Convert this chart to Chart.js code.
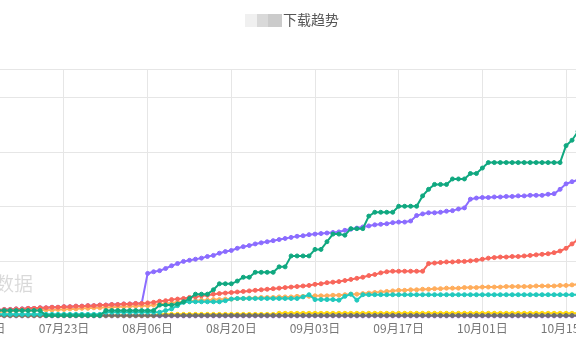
<!DOCTYPE html>
<html><head><meta charset="utf-8">
<script src="https://cdn.jsdelivr.net/npm/chart.js@4"></script>
<style>
html,body{margin:0;padding:0;background:#fff;overflow:hidden;width:576px;height:356px;}
#wrap{position:absolute;left:-60px;top:0;width:678px;height:356px;}
</style></head><body>
<div id="wrap"><canvas id="c"></canvas></div>
<script>
const titleText = "下载趋势";
const watermarkText = "数据";
// categories: one per day from 07月09日
const dates = [];
(function(){ const d = new Date(2023, 6, 9); for (let i = 0; i < 101; i++) { const m = String(d.getMonth()+1).padStart(2,'0'); const dd = String(d.getDate()).padStart(2,'0'); dates.push(m + "月" + dd + "日"); d.setDate(d.getDate()+1); } })();

const green = [10,10,10,10,10,10,10,10,10,10,10,
  1,1,1,1,1,1,1,1,1,1,
  10,10,10,10,10,10,10,10,10,
  20,20,20,22,26,32,40,40,40,48,
  59,59,59,64,71,71,80,80,80,80,
  90,90,110,110,110,110,122,122,136,150,
  150,148,160,160,160,183,190,190,190,190,
  201,201,201,201,220,232,241,241,241,251,
  251,251,261,261,271,281,281,281,281,281,
  281,281,281,281,281,281,281,281,312,322,338];
const purple = [10,10,11,11,12,12,13,13,14,14,15,15,16,16,17,17,18,18,19,19,20,20,21,21,22,22,23,23,
  78,81,83,87,92,96,100,102,104,106,
  109,111,115,118,120,124,127,129,132,134,
  136,138,140,142,144,146,147,149,150,151,
  152,153,154,157,159,161,163,165,167,168,
  169,171,172,172,174,184,187,189,189,190,
  192,193,196,198,214,216,217,217,218,218,
  219,219,220,220,221,221,221,223,224,232,
  242,246,249];
const red = [10,10,11,11,12,12,13,13,14,14,
  15,15,16,16,17,17,18,18,19,19,
  20,20,21,21,22,22,23,23,24,25,
  27,28,30,31,32,34,35,37,38,40,
  41,42,43,44,45,46,47,48,49,50,
  51,52,53,54,55,56,
  58,59,61,62,63,65,67,69,71,74,76,79,81,82,
  82,82,82,82,82,
  96,97,98,99,99,100,100,101,102,104,
  106,107,108,108,109,109,110,111,112,113,114,
  116,119,124,132,140];
const orange = [7,7,8,8,8,9,9,10,10,10,
  11,11,11,12,12,13,13,14,14,15,
  15,16,16,17,17,18,18,19,19,20,
  22,23,24,25,26,27,28,29,29,30,
  30,31,31,32,32,33,33,34,34,34,
  35,35,35,36,36,36,37,37,37,38,
  38,39,40,40,41,42,43,44,45,46,
  47,47,48,48,49,49,50,50,51,51,
  51,52,52,52,53,53,53,53,54,54,
  54,54,54,55,55,55,55,56,56,57,58];
const cyan = [3,3,3,3,3,3,3,3,3,3,3,3,3,3,3,3,3,3,3,3,3,
  7,7,7,7,7,7,7,7,7,
  7,10,13,19,25,26,26,26,26,26,
  26,28,31,32,32,32,32,32,32,32,
  32,32,32,32,35,39,30,30,30,30,
  29,36,40,29,39,39,39,39,39,39,
  39,39,39,39,39,39,39,39,39,39,
  39,39,39,39,39,39,39,39,39,39,
  39,39,39,39,39,39,39,39,39,39,39];
const yellow = [1,1,1,1,1,1,1,1,1,1,1,1,1,1,1,1,1,1,1,1,1,1,1,1,1,1,1,1,1,1,
  3,3,3,3,3,3,3,3,3,3,3,3,3,3,3,3,3,3,3,3,
  5,5,5,5,5,5,5,5,5,5,5,5,5,5,5,5,5,5,5,5,5,5,5,5,5,5,5,5,5,5,5,5,5,5,5,5,5,5,5,5,5,5,5,5,5,5,5,5,5,5,5];
const grey = Array(101).fill(1);
const lavender = Array(101).fill(0);
const yTicks = [0,100,200,300,400,452.4];

function ds(data, color){
  return {data, borderColor: color, backgroundColor: color, pointBackgroundColor: color, pointBorderColor: color,
    borderWidth: 2, pointRadius: 2, pointBorderWidth: 1, pointHoverRadius: 2, tension: 0, clip: false};
}

const decor = {
  id: 'decor',
  beforeDatasetsDraw(chart){
    const ctx = chart.ctx; ctx.save();
    ctx.font = '19px "Noto Sans CJK SC"'; ctx.fillStyle = 'rgba(0,0,0,0.15)';
    ctx.textAlign = 'right'; ctx.textBaseline = 'middle';
    ctx.fillText(watermarkText, 93, 284);
    ctx.restore();
  },
  afterDraw(chart){
    const ctx = chart.ctx; ctx.save();
    ctx.fillStyle = '#f0f0f0'; ctx.fillRect(305, 14, 12, 13);
    ctx.fillStyle = '#d9d9d9'; ctx.fillRect(317, 14, 11, 13);
    ctx.fillStyle = '#cbcbcb'; ctx.fillRect(328, 14, 14, 13);
    ctx.font = '14px "Noto Sans CJK SC"'; ctx.fillStyle = '#555555';
    ctx.textAlign = 'left'; ctx.textBaseline = 'middle';
    ctx.fillText(titleText, 343, 20);
    ctx.restore();
  }
};

new Chart(document.getElementById('c'), {
  type: 'line',
  data: { labels: dates, datasets: [
    ds(green, '#10a880'),
    ds(red, '#f8665b'),
    ds(cyan, '#22c9bd'),
    ds(orange, '#ffad5c'),
    ds(purple, '#8b6cff'),
    ds(grey, '#6f6f6f'),
    ds(yellow, '#ffd60a'),
    ds(lavender, '#b98af0')
  ]},
  options: {
    responsive: true, maintainAspectRatio: false, animation: false,
    layout: { autoPadding: false, padding: { left: 40.3, right: 40, top: 69, bottom: 15.6 } },
    plugins: { legend: { display: false }, tooltip: { enabled: false }, title: { display: false } },
    scales: {
      x: {
        type: 'category', offset: false,
        afterBuildTicks(scale){ scale.ticks = scale.ticks.filter(t => t.value % 14 === 0); },
        ticks: { autoSkip: false, maxRotation: 0, padding: 5, color: '#777777', font: { size: 12, family: '"Noto Sans CJK SC"' } },
        grid: { color: '#e6e6e6', drawTicks: false },
        border: { display: true, color: '#e0e0e0' }
      },
      y: {
        min: 0, max: 452.4,
        afterBuildTicks(scale){ scale.ticks = yTicks.map(v => ({value: v})); },
        ticks: { display: false },
        grid: { color: '#e6e6e6', drawTicks: false },
        border: { display: false }
      }
    }
  },
  plugins: [decor]
});
</script></body></html>
